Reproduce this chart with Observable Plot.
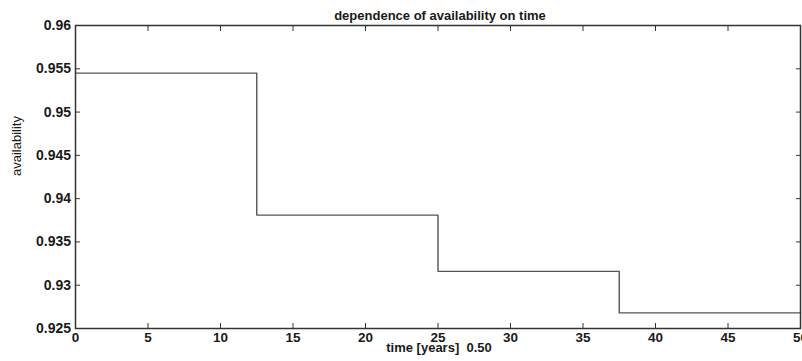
<!DOCTYPE html>
<html><head><meta charset="utf-8">
<script src="https://cdn.jsdelivr.net/npm/d3@7"></script>
<script src="https://cdn.jsdelivr.net/npm/@observablehq/plot@0.6"></script>
<style>
body{margin:0;background:#fff;}
svg text{white-space:pre;}
</style>
</head><body><div id="chart"></div>
<script>
const stepStarts = [0, 12.5, 25, 37.5, 50];
const availability = [0.9545, 0.9381, 0.9316, 0.9268, 0.9268];
const xTicks = [0, 5, 10, 15, 20, 25, 30, 35, 40, 45, 50];
const yTicks = [0.925, 0.93, 0.935, 0.94, 0.945, 0.95, 0.955, 0.96];
const titleText = "dependence of availability on time";
const xLabelText = "time [years]  0.50";
const yLabelText = "availability";

const data = stepStarts.map((t, i) => ({t, a: availability[i]}));
const font = "'Liberation Sans', Arial, Helvetica, sans-serif";
const fmt = d => String(d);

const chart = Plot.plot({
  width: 802, height: 361,
  marginLeft: 75, marginRight: 2, marginTop: 25, marginBottom: 33,
  style: {fontFamily: font, fontSize: "14px", color: "#1a1a1a", background: "#fff"},
  x: {domain: [0, 50]},
  y: {domain: [0.925, 0.96]},
  marks: [
    Plot.lineY(data, {x: "t", y: "a", curve: "step-after", stroke: "#555", strokeWidth: 1.4}),
    Plot.axisX(xTicks, {anchor: "bottom", tickSize: -5, tickPadding: 9, tickFormat: fmt, fontWeight: "bold", fontSize: 13.5, label: null, stroke: "#333"}),
    Plot.axisX(xTicks, {anchor: "top", tickSize: -5, tickFormat: () => "", label: null, stroke: "#333"}),
    Plot.axisY(yTicks, {anchor: "left", tickSize: -5, tickPadding: 9.5, tickFormat: fmt, fontWeight: "bold", fontSize: 14, label: null, stroke: "#333"}),
    Plot.axisY(yTicks, {anchor: "right", tickSize: -5, tickFormat: () => "", label: null, stroke: "#333"}),
    Plot.frame({stroke: "#333", strokeWidth: 1.5}),
    Plot.text([titleText], {frameAnchor: "top", dy: -10, dx: 2, lineAnchor: "middle", fontWeight: "bold", fontSize: 13}),
    Plot.text([xLabelText], {frameAnchor: "bottom", dy: 19.5, dx: 1, lineAnchor: "middle", fontWeight: "bold", fontSize: 13}),
    Plot.text([yLabelText], {frameAnchor: "left", dx: -59, dy: -1, rotate: -90, lineAnchor: "middle", fontSize: 13})
  ]
});
document.getElementById("chart").appendChild(chart);
</script>
</body></html>
